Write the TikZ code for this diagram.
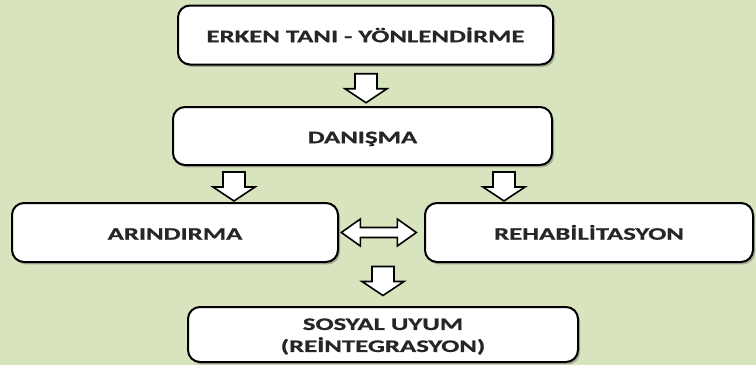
\documentclass[tikz,border=0pt]{standalone}
\usepackage{fontspec}
\setmainfont{Carlito}[FakeStretch=1.52, BoldFeatures={FakeStretch=1.52, FakeBold=0.8}]
\usetikzlibrary{shadows,calc}
\definecolor{bg}{HTML}{D7E4BD}
\definecolor{txt}{HTML}{262626}
\begin{document}
\begin{tikzpicture}[x=0.75pt,y=-0.75pt,
  box/.style={draw=black, line width=1.5pt, fill=white, rounded corners=9pt,
    align=center, font=\fontsize{13.2}{16.5}\selectfont\bfseries, text=txt, inner sep=0pt,
    text height=10.8pt, text depth=0pt,
    drop shadow={shadow xshift=1.5pt, shadow yshift=-1.8pt, fill=black!60, opacity=0.45}},
  bsize/.style 2 args={minimum width=#1*0.75pt, minimum height=#2*0.75pt},
  blk/.style={draw=black, line width=1.2pt, fill=white, line join=miter},
  downarr/.pic={\path[blk] (-11,-14) -- (11,-14) -- (11,1) -- (21,1) -- (0,15) -- (-21,1) -- (-11,1) -- cycle;},
  lrarr/.pic={\path[blk] (-37.5,0) -- (-18.5,-13.5) -- (-18.5,-5) -- (18.5,-5) -- (18.5,-13.5) -- (37.5,0)
      -- (18.5,13.5) -- (18.5,5) -- (-18.5,5) -- (-18.5,13.5) -- cycle;}
]
\useasboundingbox (0,0) rectangle (756,365);
\fill[bg] (0,0) rectangle (756,365);

\node[box, bsize={375}{59}] (b1) at (365.5,35) {ERKEN TANI - YÖNLENDİRME};
\node[box, bsize={379}{58}] (b2) at (362.5,136) {DANIŞMA};
\node[box, bsize={326}{59}] (b3) at (175,232.5) {ARINDIRMA};
\node[box, bsize={328}{59}] (b4) at (589,232.5) {REHABİLİTASYON};
\node[box, bsize={390}{55}, text height=26.2pt] (b5) at (383,334.5) {SOSYAL UYUM\\(REİNTEGRASYON)};

\coordinate (m12) at ($(b1.south)!0.5!(b2.north)$);
\coordinate (m23) at ($(b2.south)!0.5!(b3.north)$);
\coordinate (m34) at ($(b3.east)!0.5!(b4.west)$);
\coordinate (m45) at ($(b3.south)!0.5!(b5.north)$);

\pic at ([yshift=-1.5pt]m12 -| 366,0) {downarr};
\pic at ([yshift=-1.5pt]m23 -| 234,0) {downarr};
\pic at ([yshift=-1.5pt]m23 -| 504,0) {downarr};
\pic at ([xshift=-2pt]m34) {lrarr};
\pic at ([yshift=3pt]m45 -| 383,0) {downarr};
\end{tikzpicture}
\end{document}
